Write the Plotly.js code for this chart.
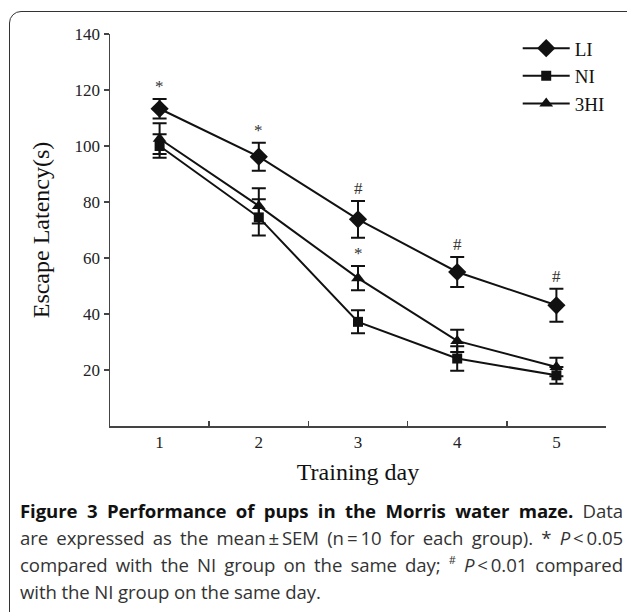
<!DOCTYPE html>
<html>
<head>
<meta charset="utf-8">
<script src="https://cdn.plot.ly/plotly-3.0.1.min.js"></script>
<style>
  html, body { margin: 0; padding: 0; background: #fff; }
  body { width: 627px; height: 612px; overflow: hidden; position: relative; }
  #frame { position: absolute; left: 9px; top: 11px; width: 660px; height: 700px;
           border: 1.5px solid #333; border-radius: 12px; box-sizing: border-box; }
  #chart { position: absolute; left: 0; top: 0; width: 627px; height: 612px; }
  .cap { position: absolute; left: 20px; width: 603px; font-family: "Open Sans", "Noto Sans", sans-serif;
         font-size: 18.6px; color: #333; white-space: nowrap; line-height: 27px; letter-spacing: -0.1px; }
  .just { text-align: justify; text-align-last: justify; white-space: normal; }
  .cap b { color: #111; }
  .cap sup { font-size: 11px; line-height: 0; position: relative; top: -1px; }
</style>
</head>
<body>
<div id="frame"></div>
<div id="chart"></div>
<div class="cap just" style="top:497px;"><b>Figure 3 Performance of pups in the Morris water maze.</b> Data</div>
<div class="cap just" style="top:524px;">are expressed as the mean&thinsp;±&thinsp;SEM (n&thinsp;=&thinsp;10 for each group). * <i>P</i>&thinsp;&lt;&thinsp;0.05</div>
<div class="cap just" style="top:551px;">compared with the NI group on the same day; <sup>#</sup> <i>P</i>&thinsp;&lt;&thinsp;0.01 compared</div>
<div class="cap" style="top:578px;">with the NI group on the same day.</div>
<script>
const days = ["1", "2", "3", "4", "5"];
const yTicks = [20, 40, 60, 80, 100, 120, 140];

const liMean = [113.3, 96.2, 73.8, 55.0, 43.1];
const liSem  = [3.5, 5.0, 6.6, 5.4, 5.9];
const niMean = [100.0, 74.5, 37.2, 24.1, 18.1];
const niSem  = [4.2, 6.5, 4.1, 4.4, 3.0];
const hiMean = [102.6, 78.6, 52.8, 30.4, 21.1];
const hiSem  = [5.5, 6.3, 4.3, 4.0, 3.3];

// significance marks: series, day index, symbol
const sigSeries = ["LI", "LI", "LI", "LI", "LI", "3HI"];
const sigDayIdx = [0, 1, 2, 3, 4, 2];
const sigText   = ["*", "*", "#", "#", "#", "*"];

const seriesData = {
  "LI":  {mean: liMean, sem: liSem, symbol: "diamond", size: 14},
  "NI":  {mean: niMean, sem: niSem, symbol: "square", size: 10},
  "3HI": {mean: hiMean, sem: hiSem, symbol: "triangle-up", size: 12}
};

const traces = Object.keys(seriesData).map(name => {
  const s = seriesData[name];
  return {
    type: "scatter", mode: "lines+markers", name: name,
    x: days, y: s.mean, legendgroup: name,
    line: {color: "#111", width: 2},
    marker: {symbol: s.symbol, size: s.size, color: "#111"},
    error_y: {type: "data", array: s.sem, visible: true, color: "#111", thickness: 2, width: 7}
  };
});

const annotations = sigSeries.map((name, k) => {
  const s = seriesData[name];
  const i = sigDayIdx[k];
  return {
    x: i, y: s.mean[i] + s.sem[i], xref: "x", yref: "y",
    text: sigText[k], showarrow: false, yanchor: "bottom", yshift: 1,
    font: {family: "Liberation Serif, serif", size: 17, color: "#333"}
  };
});

const layout = {
  width: 627, height: 612,
  margin: {l: 110, r: 21, t: 34, b: 186, pad: 0},
  paper_bgcolor: "rgba(0,0,0,0)", plot_bgcolor: "rgba(0,0,0,0)",
  font: {family: "Liberation Serif, serif", color: "#222"},
  showlegend: true,
  legend: {x: 0.822, xanchor: "left", y: 1.012, yanchor: "top", bgcolor: "rgba(0,0,0,0)",
           font: {family: "Liberation Serif, serif", size: 19, color: "#111"},
           tracegroupgap: 0, itemwidth: 47},
  xaxis: {
    type: "category", range: [-0.5, 4.5], tickson: "boundaries",
    ticks: "inside", ticklen: 5, tickwidth: 1.5, tickcolor: "#444",
    showline: true, linecolor: "#444", linewidth: 1.5, showgrid: false, zeroline: false,
    tickfont: {family: "Liberation Serif, serif", size: 17, color: "#222"},
    title: {text: "Training day", font: {family: "Liberation Serif, serif", size: 24, color: "#111"}, standoff: 12}
  },
  yaxis: {
    range: [0, 140], tickvals: yTicks, ticktext: yTicks.map(String),
    ticks: "outside", ticklen: 5, tickwidth: 1.5, tickcolor: "#444",
    showline: true, linecolor: "#444", linewidth: 1.5, showgrid: false, zeroline: false,
    tickfont: {family: "Liberation Serif, serif", size: 17, color: "#222"},
    title: {text: "Escape Latency(s)", font: {family: "Liberation Serif, serif", size: 24, color: "#111"}, standoff: 18}
  },
  annotations: annotations
};

Plotly.newPlot("chart", traces, layout, {displayModeBar: false, staticPlot: true});
</script>
</body>
</html>
